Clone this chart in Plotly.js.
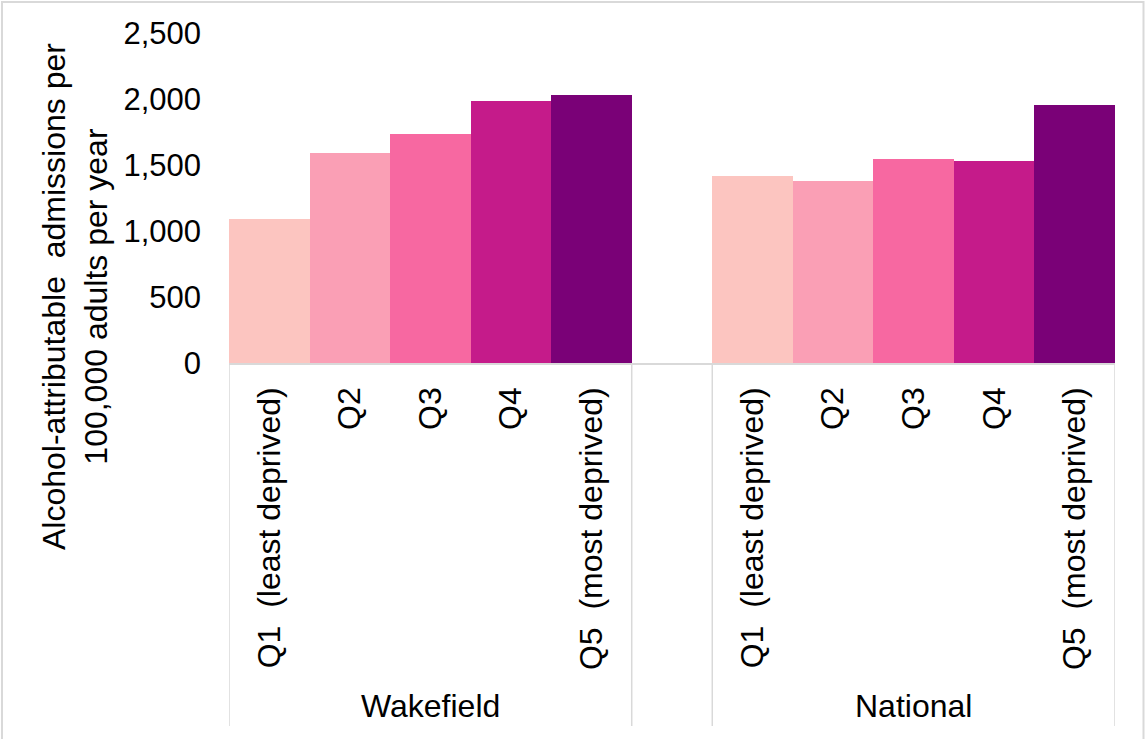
<!DOCTYPE html>
<html>
<head>
<meta charset="utf-8">
<script src="https://cdn.plot.ly/plotly-3.0.1.min.js"></script>
<style>
  html, body { margin: 0; padding: 0; background: #ffffff; }
  #chart { width: 1146px; height: 739px; }
</style>
</head>
<body>
<div id="chart"></div>
<script>
// ---- data ----
const groups = ["Wakefield", "National"];
const quintiles = ["Q1\u00a0\u00a0(least deprived)", "Q2", "Q3", "Q4", "Q5\u00a0\u00a0(most deprived)"];
const wakefieldValues = [1090, 1590, 1735, 1985, 2030];
const nationalValues = [1420, 1380, 1545, 1530, 1955];
const quintileColors = ["#fcc5c0", "#fa9fb5", "#f768a1", "#c51b8a", "#7a0177"];
const yTicks = [0, 500, 1000, 1500, 2000, 2500];
const yTitle = "Alcohol-attributable\u00a0\u00a0admissions per<br>100,000 adults per year";

// ---- build categories: group 1, spacer, group 2 ----
const seriesByGroup = [wakefieldValues, nationalValues];
const xCats = [], yVals = [], colors = [], tickvals = [], ticktext = [];
groups.forEach((g, gi) => {
  if (gi > 0) { xCats.push("spacer" + gi); yVals.push(null); colors.push("#ffffff"); }
  quintiles.forEach((q, qi) => {
    const id = g + "|" + qi;
    xCats.push(id);
    yVals.push(seriesByGroup[gi][qi]);
    colors.push(quintileColors[qi]);
    tickvals.push(id);
    ticktext.push(q);
  });
});

// ---- geometry helpers (pixels -> paper) ----
const W = 1146, H = 739;
const M = { l: 229, r: 31, t: 33, b: 376 };
const pw = W - M.l - M.r, ph = H - M.t - M.b;
const px2x = p => (p - M.l) / pw;
const py2y = p => (H - M.b - p) / ph;

const font = "Liberation Sans, Arial, sans-serif";
const grey = "#d9d9d9";

// divider lines on the category axis
const shapes = [];
const groupLen = quintiles.length;
const edges = [-0.5, groupLen - 0.5, groupLen + 0.5, 2 * groupLen + 0.5];
edges.forEach(e => {
  shapes.push({ type: "line", xref: "x", yref: "paper", x0: e, x1: e,
    y0: 0, y1: py2y(726), line: { color: grey, width: 1.5 } });
});
// outer chart border
shapes.push({ type: "rect", xref: "paper", yref: "paper",
  x0: px2x(2), x1: px2x(1143.5), y0: py2y(2), y1: py2y(760),
  line: { color: grey, width: 2 }, fillcolor: "rgba(0,0,0,0)" });

const annotations = [];
groups.forEach((g, gi) => {
  const centerIdx = gi * (groupLen + 1) + (groupLen - 1) / 2;
  annotations.push({ text: g, xref: "x", yref: "paper", x: centerIdx, y: py2y(706),
    xanchor: "center", yanchor: "middle", showarrow: false,
    font: { family: font, size: 32, color: "#000000" } });
});
annotations.push({ text: yTitle, xref: "paper", yref: "paper", x: px2x(75), y: py2y(297),
  xanchor: "center", yanchor: "middle", showarrow: false, textangle: -90,
  font: { family: font, size: 32, color: "#000000" } });

const trace = {
  type: "bar", x: xCats, y: yVals,
  marker: { color: colors, line: { width: 0 } },
  hoverinfo: "skip"
};

const layout = {
  width: W, height: H,
  margin: M,
  paper_bgcolor: "#ffffff", plot_bgcolor: "#ffffff",
  showlegend: false,
  bargap: 0,
  font: { family: font, size: 31, color: "#000000" },
  xaxis: {
    type: "category", categoryorder: "array", categoryarray: xCats,
    tickvals: tickvals, ticktext: ticktext, tickangle: -90,
    showline: true, linecolor: grey, linewidth: 1.5,
    showgrid: false, zeroline: false, ticks: "",
    ticklabelstandoff: 10,
    tickfont: { family: font, size: 32, color: "#000000" },
    range: [-0.5, 2 * groupLen + 0.5], fixedrange: true
  },
  yaxis: {
    range: [0, 2500], tickvals: yTicks, tickformat: ",",
    showline: false, showgrid: false, zeroline: false, ticks: "",
    ticklabelstandoff: 27,
    tickfont: { family: font, size: 31, color: "#000000" },
    fixedrange: true
  },
  shapes: shapes,
  annotations: annotations
};

Plotly.newPlot("chart", [trace], layout, { staticPlot: true, displayModeBar: false });
</script>
</body>
</html>
